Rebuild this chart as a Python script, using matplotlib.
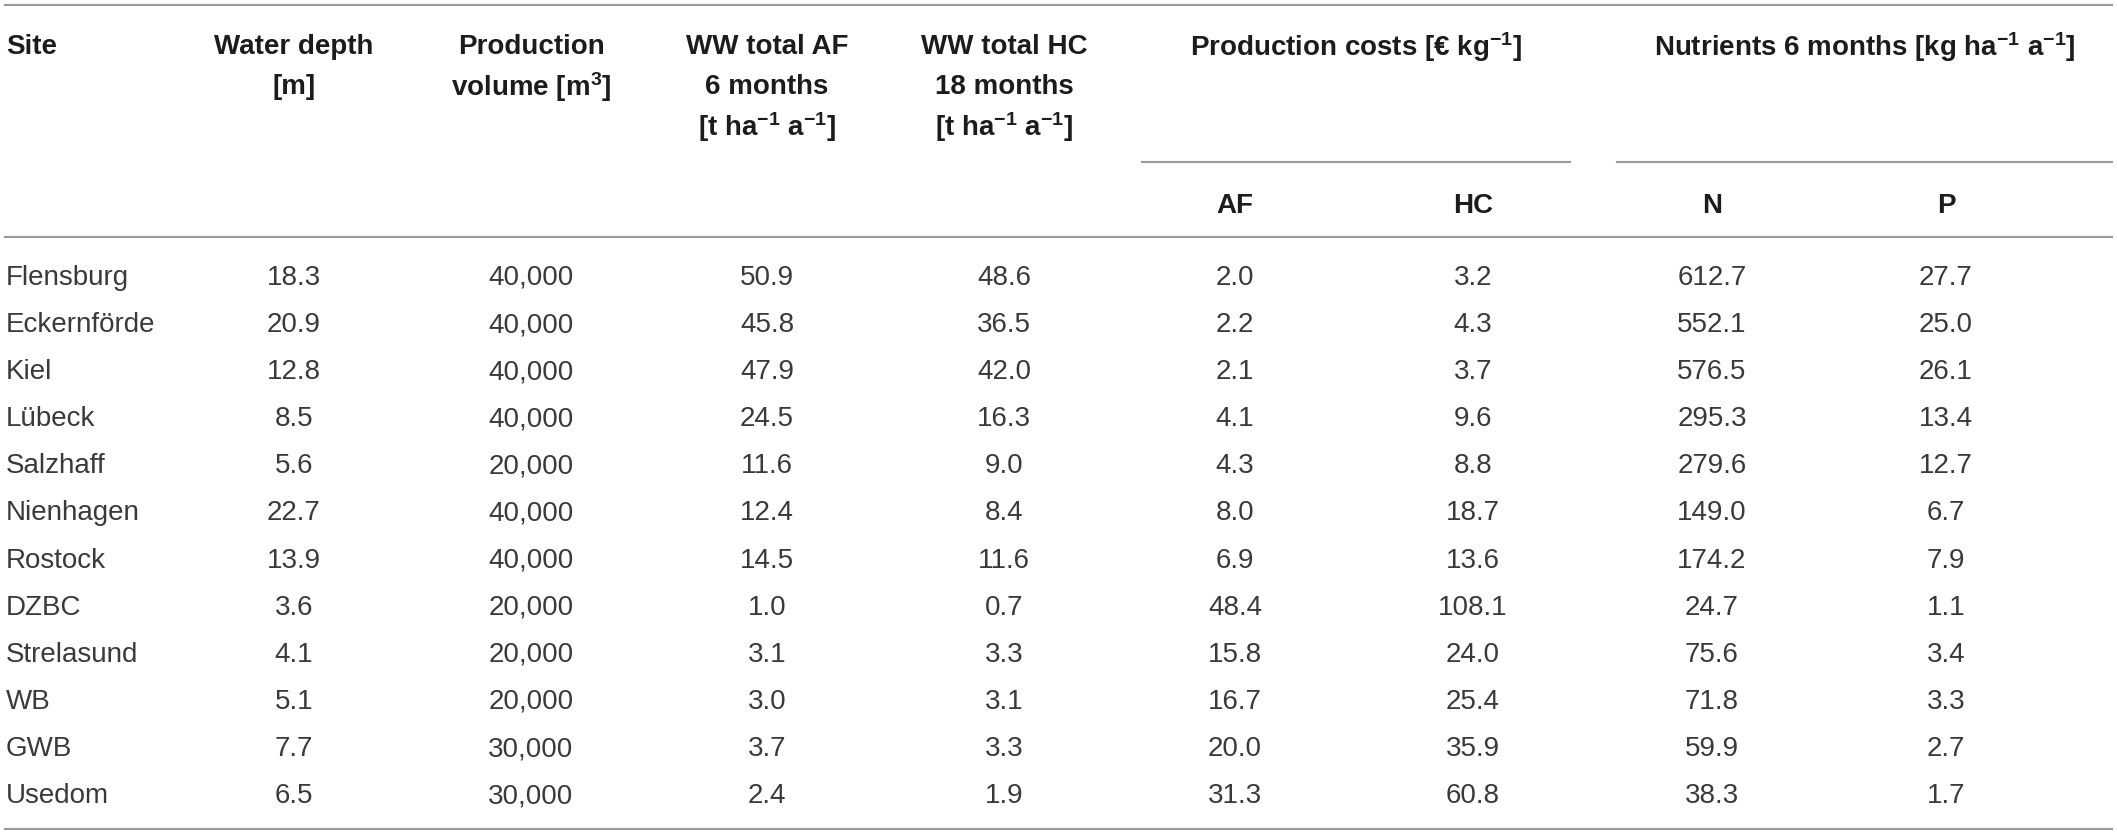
import matplotlib
matplotlib.use("Agg")
import matplotlib.pyplot as plt

plt.rcParams['font.family'] = ['Liberation Sans', 'DejaVu Sans']
plt.rcParams['mathtext.fontset'] = 'custom'
plt.rcParams['mathtext.rm'] = 'Liberation Sans'
plt.rcParams['mathtext.bf'] = 'Liberation Sans:bold'
plt.rcParams['mathtext.default'] = 'bf'

# table content
sites = ["Flensburg", "Eckernförde", "Kiel", "Lübeck", "Salzhaff", "Nienhagen",
         "Rostock", "DZBC", "Strelasund", "WB", "GWB", "Usedom"]
water_depth = [18.3, 20.9, 12.8, 8.5, 5.6, 22.7, 13.9, 3.6, 4.1, 5.1, 7.7, 6.5]
prod_volume = [40000, 40000, 40000, 40000, 20000, 40000, 40000, 20000, 20000, 20000, 30000, 30000]
ww_af = [50.9, 45.8, 47.9, 24.5, 11.6, 12.4, 14.5, 1.0, 3.1, 3.0, 3.7, 2.4]
ww_hc = [48.6, 36.5, 42.0, 16.3, 9.0, 8.4, 11.6, 0.7, 3.3, 3.1, 3.3, 1.9]
cost_af = [2.0, 2.2, 2.1, 4.1, 4.3, 8.0, 6.9, 48.4, 15.8, 16.7, 20.0, 31.3]
cost_hc = [3.2, 4.3, 3.7, 9.6, 8.8, 18.7, 13.6, 108.1, 24.0, 25.4, 35.9, 60.8]
nutr_n = [612.7, 552.1, 576.5, 295.3, 279.6, 149.0, 174.2, 24.7, 75.6, 71.8, 59.9, 38.3]
nutr_p = [27.7, 25.0, 26.1, 13.4, 12.7, 6.7, 7.9, 1.1, 3.4, 3.3, 2.7, 1.7]

col_headers = [
    ["Water depth", "[m]"],
    ["Production", r"volume [m$^{3}$]"],
    ["WW total AF", "6 months", r"[t ha$^{-1}$ a$^{-1}$]"],
    ["WW total HC", "18 months", r"[t ha$^{-1}$ a$^{-1}$]"],
]
group_headers = [r"Production costs [€ kg$^{-1}$]", r"Nutrients 6 months [kg ha$^{-1}$ a$^{-1}$]"]
sub_headers = ["AF", "HC", "N", "P"]

# layout (pixels)
W, H = 2117, 835
col_x = [294, 531, 767, 1004, 1235, 1473, 1712, 1946]
head_y = [47, 87, 127]
sub_y = 206
row_y0, row_dy = 278, 47.1
fs = 20
hdr_col = '#1c1c1c'
txt_col = '#3a3a3a'
rule_col = '#9a9a9a'

fig = plt.figure(figsize=(W / 100, H / 100), dpi=100)
ax = fig.add_axes([0, 0, 1, 1])
ax.set_xlim(0, W)
ax.set_ylim(H, 0)
ax.axis('off')

# rules
ax.plot([5, 2112], [5, 5], color=rule_col, lw=1.5)
ax.plot([5, 2112], [237, 237], color=rule_col, lw=1.5)
ax.plot([5, 2112], [829, 829], color=rule_col, lw=1.5)
ax.plot([1142, 1570], [162, 162], color=rule_col, lw=1.5)
ax.plot([1617, 2112], [162, 162], color=rule_col, lw=1.5)

# header
ax.text(6, head_y[0], "Site", ha='left', va='center', fontsize=fs, fontweight='bold', color=hdr_col)
for x, lines in zip(col_x[:4], col_headers):
    for y, s in zip(head_y, lines):
        ax.text(x, y, s, ha='center', va='center', fontsize=fs, fontweight='bold', color=hdr_col)
ax.text((1142 + 1570) / 2, head_y[0], group_headers[0], ha='center', va='center',
        fontsize=fs, fontweight='bold', color=hdr_col)
ax.text((1617 + 2112) / 2, head_y[0], group_headers[1], ha='center', va='center',
        fontsize=fs, fontweight='bold', color=hdr_col)
for x, s in zip(col_x[4:], sub_headers):
    ax.text(x, sub_y, s, ha='center', va='center', fontsize=fs, fontweight='bold', color=hdr_col)

# body
cols = [water_depth, prod_volume, ww_af, ww_hc, cost_af, cost_hc, nutr_n, nutr_p]
for i, site in enumerate(sites):
    y = row_y0 + i * row_dy
    ax.text(6, y, site, ha='left', va='center', fontsize=fs, color=txt_col)
    for j, (x, vals) in enumerate(zip(col_x, cols)):
        v = vals[i]
        s = f"{v:,}" if j == 1 else f"{v:.1f}"
        ax.text(x, y, s, ha='center', va='center', fontsize=fs, color=txt_col)

fig.savefig("out.png", dpi=100, facecolor='white')
